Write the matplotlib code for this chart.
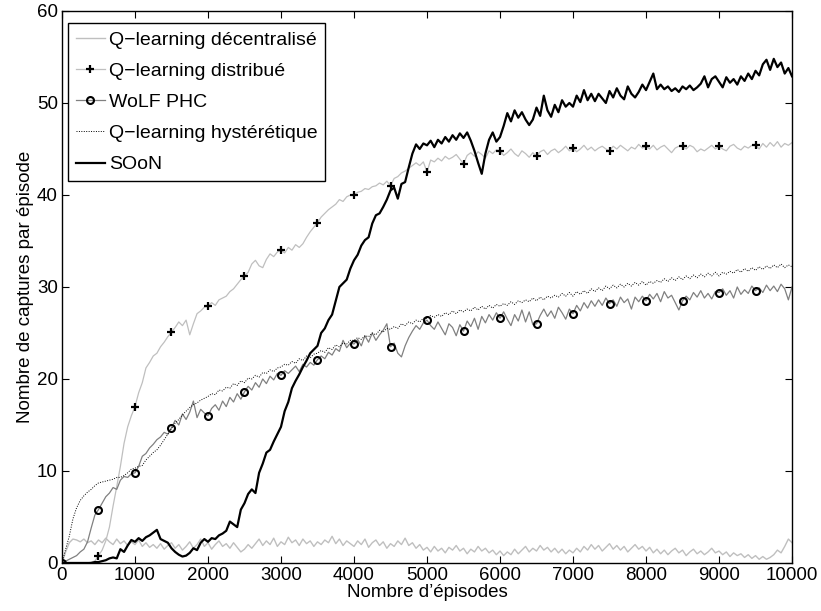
import matplotlib
matplotlib.use("Agg")
import matplotlib.pyplot as plt

plt.rcParams['font.family'] = ['Liberation Sans', 'DejaVu Sans']

# episodes, one sample every 50
episodes = list(range(0, 10001, 50))

q_decentral = [
    0, 1.2, 2.2, 2.6, 2.5, 2.3, 2.6, 2.2, 2.4, 2.0, 2.5, 2.2, 2.7, 2.3, 2.0, 2.6, 2.1, 2.4, 1.9, 2.3,
    2.0, 2.5, 1.8, 2.2, 1.7, 2.0, 1.6, 2.1, 1.5, 1.9, 2.2, 1.6, 2.0, 1.4, 1.8, 2.3, 1.6, 2.0, 2.6, 1.8,
    2.2, 1.5, 2.0, 2.4, 1.8, 2.1, 1.6, 2.2, 1.7, 1.2, 1.5, 2.0, 1.6, 2.1, 2.6, 1.9, 2.4, 2.0, 2.7, 1.8,
    2.3, 2.0, 2.8, 2.2, 2.5, 1.9, 2.6, 2.1, 2.4, 1.8, 2.3, 2.0, 2.5, 2.2, 2.9, 2.1, 2.6, 1.9, 2.4, 2.1,
    1.8, 2.4, 2.0, 2.6, 1.7, 2.2, 2.5, 1.9, 2.3, 1.6, 2.1, 1.8, 2.4, 2.0, 2.7, 1.9, 2.2, 1.6, 2.0, 1.4,
    1.7, 1.2, 1.8, 1.3, 1.6, 1.1, 1.7, 1.4, 1.9, 1.3, 1.6, 1.0, 1.5, 1.2, 1.8, 1.3, 1.6, 1.1, 1.4, 0.9,
    1.3, 0.8, 1.2, 0.9, 1.5, 1.0, 1.4, 1.8, 1.2, 1.6, 1.3, 1.9, 1.4, 1.7, 1.2, 1.6, 1.1, 1.5, 1.0, 1.4,
    1.1, 1.6, 1.2, 1.8, 1.4, 2.0, 1.5, 1.9, 1.3, 1.7, 2.1, 1.5, 1.9, 1.4, 1.8, 1.2, 1.6, 2.0, 1.5, 1.8,
    1.3, 1.7, 1.1, 1.5, 1.0, 1.4, 0.9, 1.3, 1.6, 1.1, 1.4, 0.8, 1.2, 1.5, 1.0, 1.3, 0.9, 1.2, 1.6, 1.1,
    1.3, 0.9, 1.2, 0.7, 1.1, 0.8, 1.0, 0.6, 0.9, 0.5, 0.8, 0.4, 0.7, 0.4, 0.6, 0.9, 1.4, 1.1, 1.8, 2.6,
    2.2]

q_distrib = [
    0, 0, 0, 0, 0, 0, 0, 0, 0.1, 0.2, 0.8, 1.4, 2.4, 3.9, 6.2, 8.3, 10.5, 13.0, 14.8, 16.0,
    17.0, 18.5, 19.6, 21.2, 21.8, 22.5, 22.8, 23.5, 24.0, 24.6, 25.1, 25.6, 26.2, 25.8, 26.4, 24.8, 26.0, 27.1, 27.4, 27.8,
    27.9, 28.3, 28.0, 28.6, 28.8, 29.0, 29.5, 29.8, 30.3, 30.8, 31.2, 31.6, 32.5, 32.9, 32.3, 32.1, 33.0, 33.6, 33.3, 33.8,
    34.0, 33.7, 34.3, 34.0, 34.6, 34.3, 34.7, 35.4, 36.0, 36.5, 37.0, 37.6, 38.0, 38.4, 38.7, 39.0, 39.5, 39.3, 39.8, 40.0,
    40.0, 40.3, 40.4, 40.7, 40.6, 40.9, 41.0, 41.3, 41.1, 41.5, 41.0, 41.8, 42.0, 42.4, 42.6, 42.9, 43.2, 43.5, 43.2, 43.6,
    42.5, 43.8, 43.6, 44.0, 43.7, 44.2, 43.9, 44.1, 44.4, 43.9, 43.4, 44.3, 44.6, 44.2, 44.7, 44.4, 44.0, 44.8, 44.5, 44.9,
    44.8, 44.3, 44.6, 45.0, 44.5, 44.2, 44.8, 44.5, 44.1, 44.6, 44.2, 44.7, 44.9, 44.4, 44.8, 45.0, 44.6, 44.9, 45.3, 44.8,
    45.1, 44.7, 45.0, 45.4, 44.9, 45.2, 44.8, 45.1, 45.3, 45.0, 44.8, 45.3, 45.0, 45.4, 45.1, 44.8, 45.2, 45.0, 45.5, 45.1,
    45.3, 45.0, 45.4, 44.9, 45.2, 45.4, 45.0, 44.6, 45.1, 45.3, 45.3, 45.0, 45.4, 45.2, 44.7, 45.0, 44.8, 45.1, 45.4, 45.0,
    45.3, 45.0, 44.8, 45.3, 45.5, 45.1, 44.9, 45.3, 45.1, 45.4, 45.4, 45.0, 45.6, 45.2, 45.7, 45.3, 45.8, 45.2, 45.6, 45.4,
    45.7]

wolf_phc = [
    0, 0.2, 0.4, 0.6, 0.8, 1.2, 1.5, 2.3, 3.8, 5.2, 5.8, 6.5, 7.2, 7.6, 8.2, 8.0, 9.0, 9.4, 9.3, 9.7,
    9.8, 10.5, 11.6, 11.9, 12.5, 12.9, 13.4, 13.7, 14.2, 14.0, 14.7, 15.5, 15.0, 16.2, 15.6, 16.4, 17.6, 15.8, 16.7, 16.3,
    16.0, 16.8, 17.2, 16.6, 17.6, 17.0, 18.0, 17.5, 18.4, 17.8, 18.6, 19.2, 18.8, 19.6, 19.1, 20.0, 19.5, 20.3, 19.9, 20.6,
    20.4, 20.9, 20.6, 21.0, 21.4, 20.8, 21.6, 21.3, 21.8, 21.5, 22.1, 22.5, 22.2, 22.9, 22.6, 23.3, 23.0, 24.2, 23.4, 23.9,
    23.8, 24.3, 23.6, 24.7, 24.0, 25.0, 24.2, 24.8, 25.3, 26.0, 23.5, 23.9, 22.8, 22.4, 23.6, 24.5, 25.2, 25.8, 25.4, 26.1,
    26.4, 25.8, 25.4, 26.2, 25.5, 24.8, 26.0, 25.6, 24.7, 25.9, 25.2, 26.3, 25.7, 26.6, 25.4, 26.8, 26.1, 27.0, 26.4, 27.2,
    26.6, 27.3, 26.5, 25.8, 27.0, 26.3, 27.5, 26.2, 27.3, 25.9, 26.0, 26.9, 27.6, 26.8, 27.4, 26.6, 27.8, 27.2, 26.5, 27.6,
    27.1, 28.0, 27.4, 28.3, 27.7, 28.5, 27.9, 28.6, 28.0, 28.8, 28.2, 28.6, 27.9, 28.9, 28.3, 28.7, 27.6, 28.9, 28.4, 29.0,
    28.5, 29.2, 28.7, 29.3, 28.4, 29.5, 28.8, 29.1, 28.3, 27.5, 28.5, 29.0, 28.6, 29.4, 28.9, 29.6, 28.8, 29.3, 28.7, 29.5,
    29.4, 29.8, 29.1, 29.6, 28.8, 30.0, 29.2, 29.7, 29.3, 30.1, 29.6, 29.9, 29.4, 30.2, 29.6, 30.1, 29.5, 30.3, 29.8, 28.6,
    30.0]

q_hysteretic = [
    0, 1.5, 2.9, 4.8, 6.0, 6.8, 7.3, 7.7, 8.0, 8.4, 8.7, 8.8, 8.9, 9.0, 9.1, 9.3, 9.3, 9.5, 9.8, 10.2,
    10.3, 10.5, 10.6, 11.2, 11.6, 12.0, 12.3, 12.8, 13.4, 14.0, 14.6, 15.2, 15.6, 16.1, 16.5, 16.9, 17.2, 17.4, 17.7, 17.9,
    18.1, 18.4, 18.3, 18.8, 18.7, 19.1, 19.0, 19.5, 19.3, 19.8, 19.6, 20.1, 20.0, 20.4, 20.2, 20.7, 20.6, 21.0, 20.8, 21.2,
    21.3, 21.6, 21.5, 21.9, 21.7, 22.2, 22.0, 22.5, 22.3, 22.7, 22.8, 23.1, 22.9, 23.4, 23.2, 23.7, 23.5, 23.9, 23.8, 24.2,
    24.2, 24.5, 24.3, 24.7, 24.6, 25.0, 24.8, 25.3, 25.1, 25.5, 25.4, 25.7, 25.5, 26.0, 25.8, 26.2, 26.0, 26.4, 26.2, 26.6,
    26.6, 26.9, 26.7, 27.0, 26.8, 27.2, 27.0, 27.4, 27.1, 27.5, 27.3, 27.6, 27.4, 27.8, 27.5, 27.9, 27.6, 28.0, 27.7, 28.1,
    27.9, 28.2, 28.0, 28.4, 28.1, 28.5, 28.3, 28.6, 28.4, 28.8, 28.5, 28.9, 28.6, 29.0, 28.8, 29.1, 28.9, 29.3, 29.0, 29.4,
    29.0, 29.5, 29.2, 29.6, 29.3, 29.8, 29.5, 29.9, 29.6, 30.1, 29.8, 30.2, 29.9, 30.3, 30.0, 30.4, 30.1, 30.5, 30.2, 30.6,
    30.2, 30.6, 30.4, 30.7, 30.5, 30.9, 30.6, 31.0, 30.7, 31.1, 30.8, 31.2, 30.9, 31.3, 31.0, 31.4, 31.1, 31.5, 31.2, 31.6,
    31.2, 31.6, 31.4, 31.7, 31.5, 31.9, 31.6, 32.0, 31.7, 32.1, 31.8, 32.2, 31.9, 32.3, 32.0, 32.4, 32.1, 32.5, 32.1, 32.4,
    32.2]

soon = [
    0, 0, 0, 0, 0, 0, 0, 0, 0, 0.1, 0.1, 0.2, 0.3, 0.5, 0.6, 0.5, 1.5, 1.2, 1.9, 2.5,
    2.3, 2.7, 2.4, 2.8, 3.0, 3.3, 3.6, 2.6, 2.4, 2.2, 1.6, 1.2, 0.9, 0.7, 0.8, 1.1, 1.6, 1.4, 2.2, 2.6,
    2.3, 2.7, 2.6, 3.0, 3.2, 3.5, 4.5, 4.2, 3.9, 5.8, 6.5, 7.5, 8.0, 7.6, 9.8, 10.8, 12.0, 12.3, 13.2, 14.0,
    14.8, 16.5, 17.5, 19.0, 19.8, 20.5, 21.3, 22.0, 22.8, 23.2, 23.6, 25.0, 25.5, 26.4, 27.0, 28.5, 30.0, 30.4, 30.8, 32.0,
    32.9, 33.5, 34.5, 35.1, 35.4, 36.9, 37.8, 38.0, 38.7, 39.5, 40.5, 40.8, 39.6, 41.2, 41.4, 43.0, 44.5, 45.5, 45.0, 45.6,
    45.4, 45.9, 45.2, 46.0, 45.6, 46.3, 45.8, 46.5, 46.0, 46.7, 46.2, 46.8, 45.9, 44.8, 43.5, 42.3, 44.5, 46.0, 46.8, 45.8,
    46.3, 47.5, 48.9, 48.0, 49.2, 48.4, 49.0, 48.2, 47.6, 48.2, 49.5, 48.6, 50.8, 49.2, 48.5, 49.8, 49.0, 50.3, 49.6, 50.0,
    49.6, 50.8, 50.1, 51.4, 50.3, 51.0, 50.2, 51.0, 50.5, 50.0, 51.3, 50.6, 51.6, 50.8, 50.4, 51.8, 51.0, 50.6, 51.2, 52.0,
    51.4, 52.3, 53.2, 51.5, 52.0, 51.5, 51.8, 51.3, 51.6, 51.2, 51.8, 51.5, 51.9, 51.4, 51.7, 52.1, 52.9, 51.7, 52.6, 52.9,
    52.3, 51.7, 52.8, 52.2, 52.6, 52.0, 52.9, 52.4, 53.2, 52.6, 53.5, 53.0, 54.2, 54.7, 53.6, 54.8, 53.9, 54.4, 53.2, 53.8,
    52.9]

labels = ["Q\u2212learning décentralisé", "Q\u2212learning distribué", "WoLF PHC",
          "Q\u2212learning hystérétique", "SOoN"]

# markers every 500 episodes, not on the last point
marks = list(range(0, len(episodes) - 1, 10))

fig = plt.figure(figsize=(8.21, 6.11), dpi=100)
ax = fig.add_axes([0.0755, 0.0786, 0.8892, 0.9034])

ax.plot(episodes, q_decentral, color='0.75', linewidth=1.0, label=labels[0])
ax.plot(episodes, q_distrib, color='0.75', linewidth=0.9, marker='+', markevery=marks,
        markersize=6, markeredgewidth=1.6, markeredgecolor='k', label=labels[1])
ax.plot(episodes, wolf_phc, color='0.5', linewidth=0.9, marker='o', markevery=marks,
        markersize=5, markeredgewidth=1.5, markeredgecolor='k', markerfacecolor='none',
        label=labels[2])
ax.plot(episodes, q_hysteretic, color='k', linewidth=0.7, linestyle=(0, (1, 1.5)),
        label=labels[3])
ax.plot(episodes, soon, color='k', linewidth=1.6, label=labels[4])

ax.set_xlim(0, 10000)
ax.set_ylim(0, 60)
ax.set_xticks(range(0, 10001, 1000))
ax.set_yticks(range(0, 61, 10))
ax.tick_params(direction='in', top=True, right=True, labelsize=13.5, length=5, width=0.8, pad=3)
for s in ax.spines.values():
    s.set_linewidth(1.0)

ax.set_xlabel("Nombre d\u2019épisodes", fontsize=13.5, labelpad=0)
ax.set_ylabel("Nombre de captures par épisode", fontsize=13.5, labelpad=2)

leg = ax.legend(loc='upper left', bbox_to_anchor=(0.008, 0.978), borderaxespad=0,
                fontsize=14, fancybox=False, edgecolor='k', framealpha=1,
                handlelength=1.5, handletextpad=0.2, labelspacing=0.7, borderpad=0.4)
leg.get_frame().set_linewidth(1.0)

fig.savefig("out.png", dpi=100)
